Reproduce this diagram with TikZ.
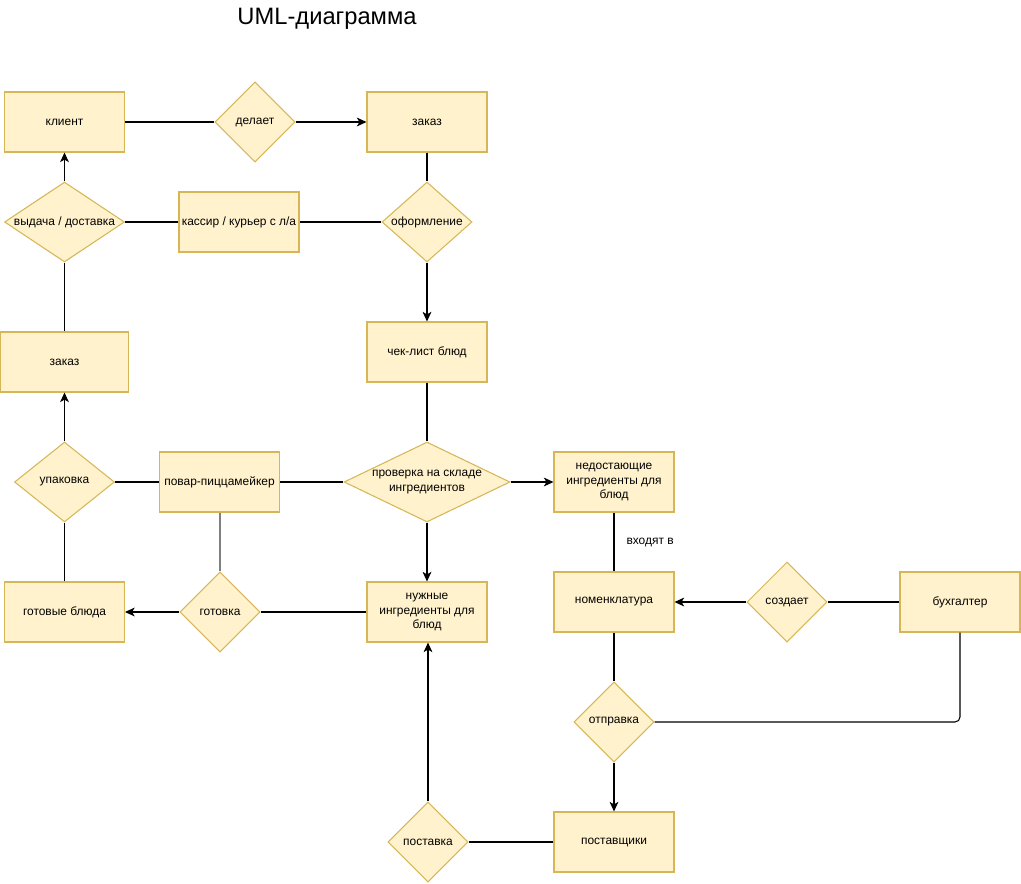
\documentclass[tikz,border=0pt]{standalone}
\usepackage{fontspec}
\setmainfont{Liberation Sans}
\usetikzlibrary{shapes.geometric,arrows.meta}

\definecolor{boxfill}{HTML}{FFF2CC}
\definecolor{boxline}{HTML}{D6B656}

\tikzset{
  entity/.style={rectangle, draw=boxline, fill=boxfill, line width=0.6pt,
    minimum width=2.4cm, minimum height=1.2cm, inner sep=1pt,
    align=center, font=\fontsize{6.8}{8}\selectfont},
  relation/.style={diamond, draw=boxline, fill=boxfill, line width=0.6pt,
    minimum width=1.6cm, minimum height=1.6cm, inner sep=0pt,
    align=center, font=\fontsize{6.8}{8}\selectfont},
  link/.style={line width=0.6pt},
  arrow/.style={line width=0.6pt, -{Stealth[length=5.5pt,width=5pt,inset=1.5pt]}}
}

\begin{document}
\begin{tikzpicture}[x=0.02cm, y=-0.02cm]
	\useasboundingbox (0,0) rectangle (1021,883);
	\node[font=\fontsize{13.5}{15}\selectfont] (title) at (327,19) {UML-диаграмма};

	% entities
	\node[entity] (client) at (64.5,122) {клиент};
	\node[entity] (order) at (427,122) {заказ};
	\node[entity] (cashier) at (239,222) {кассир / курьер с л/а};
	\node[entity] (checklist) at (427,352) {чек-лист блюд};
	\node[entity, minimum width=2.56cm] (packed) at (64.5,362) {заказ};
	\node[entity] (cook) at (219.5,482) {повар-пиццамейкер};
	\node[entity] (missing) at (614,482) {недостающие\\ингредиенты для\\блюд};
	\node[entity] (ready) at (64.5,612) {готовые блюда};
	\node[entity] (needed) at (427,612) {нужные\\ингредиенты для\\блюд};
	\node[entity] (nomen) at (614,602) {номенклатура};
	\node[entity] (account) at (960,602) {бухгалтер};
	\node[entity] (supply) at (614,842) {поставщики};

	% relations
	\node[relation] (makes) at (255,122) {делает};
	\node[relation, minimum width=2.4cm, aspect=1.5] (deliver) at (64.5,222) {выдача / доставка};
	\node[relation, minimum width=1.8cm, aspect=1.125] (issue) at (427,222) {оформление};
	\node[relation, minimum width=2cm, aspect=1.25] (pack) at (64.5,482) {упаковка};
	\node[relation, minimum width=3.32cm, aspect=2.075] (check) at (427,482) {проверка на складе\\ингредиентов};
	\node[relation] (cooking) at (220,612) {готовка};
	\node[relation] (creates) at (787,602) {создает};
	\node[relation] (send) at (614,722) {отправка};
	\node[relation] (deliv) at (428,842) {поставка};

	% connectors
	\draw[link] (client) -- (makes);
	\draw[arrow] (makes) -- (order);
	\draw[link] (order) -- (issue);
	\draw[arrow] (issue) -- (checklist);
	\draw[link] (issue) -- (cashier);
	\draw[link] (cashier) -- (deliver);
	\draw[arrow] (deliver) -- (client);
	\draw[link] (packed) -- (deliver);
	\draw[arrow] (pack) -- (packed);
	\draw[link] (ready) -- (pack);
	\draw[link] (cook) -- (pack);
	\draw[link] (cook) -- (check);
	\draw[link] (checklist) -- (check);
	\draw[arrow] (check) -- (missing);
	\draw[arrow] (check) -- (needed);
	\draw[link] (needed) -- (cooking);
	\draw[arrow] (cooking) -- (ready);
	\draw[line width=0.8pt, gray] (cook.south -| cooking.north) -- (cooking.north);
	\draw[link] (missing) -- node[right=0.24cm, inner sep=0pt, font=\fontsize{6.8}{8}\selectfont] {входят в} (nomen);
	\draw[link] (account) -- (creates);
	\draw[arrow] (creates) -- (nomen);
	\draw[link] (nomen) -- (send);
	\draw[arrow] (send) -- (supply);
	\draw[link, rounded corners=0.1cm] (account.south) |- (send.east);
	\draw[link] (supply) -- (deliv);
	\draw[arrow] (deliv) -- (needed.south -| deliv);
\end{tikzpicture}
\end{document}
